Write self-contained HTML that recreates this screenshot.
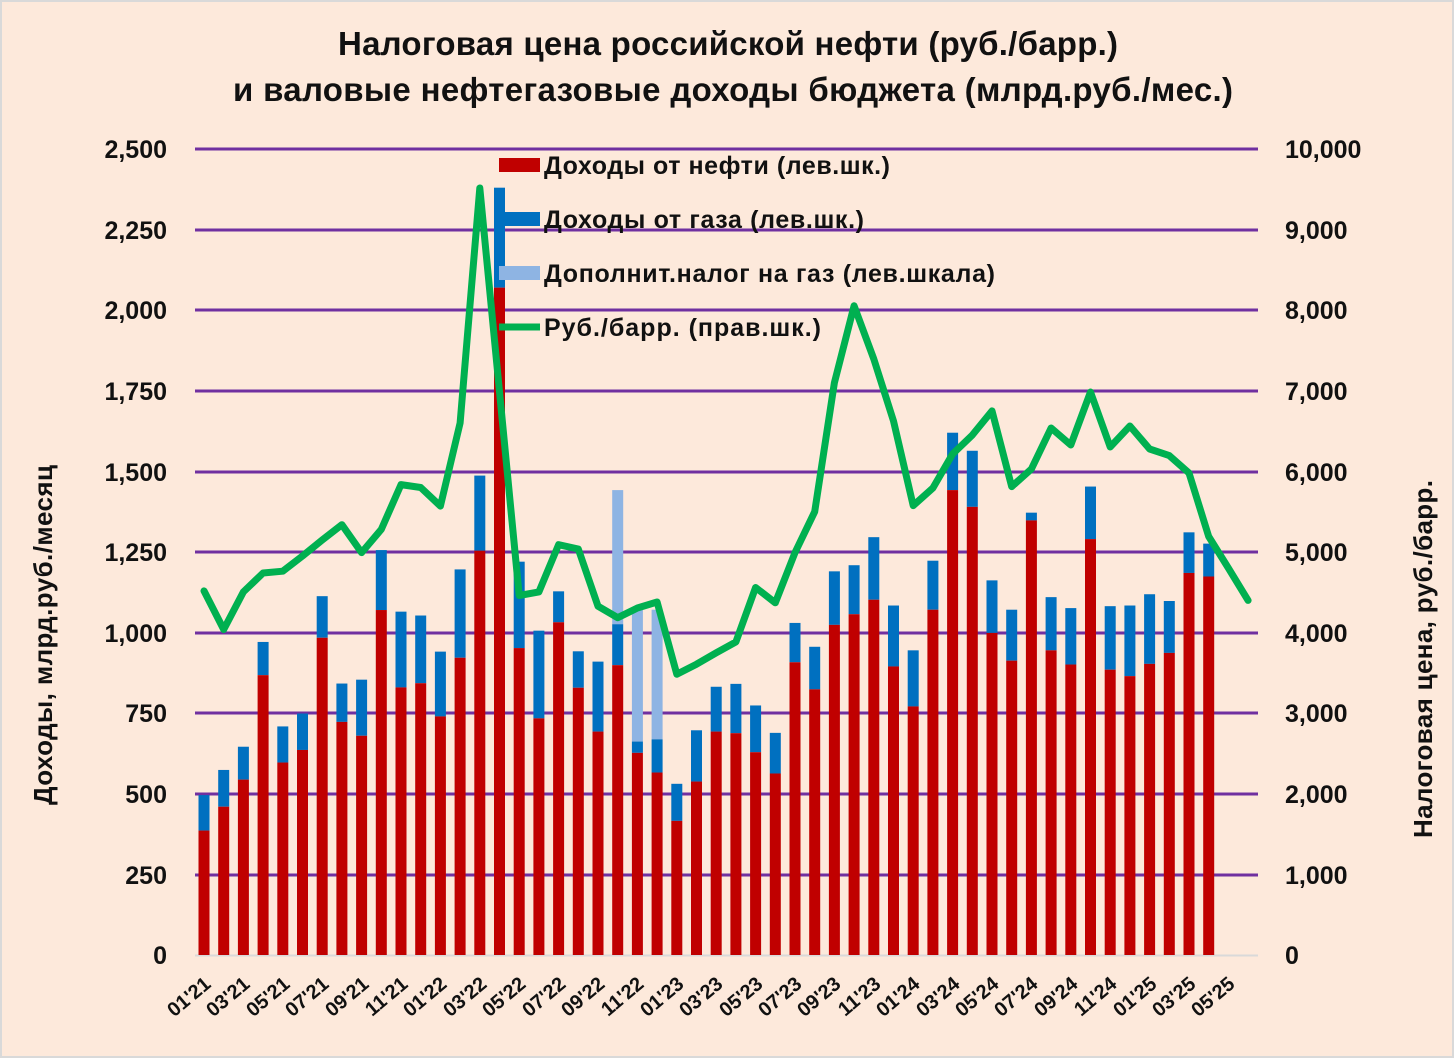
<!DOCTYPE html>
<html><head><meta charset="utf-8"><style>
html,body{margin:0;padding:0;background:#fff;}
svg{display:block;font-family:"Liberation Sans",sans-serif;font-weight:bold;}
</style></head><body>
<svg id="s" width="1456" height="1060" viewBox="0 0 1456 1060" xmlns="http://www.w3.org/2000/svg">
<rect x="1" y="1" width="1452" height="1056" fill="#fde9db" stroke="#d9d9d9" stroke-width="2"/>
<text x="728" y="55" font-size="33" text-anchor="middle" fill="#111" textLength="780">Налоговая цена российской нефти (руб./барр.)</text>
<text x="733" y="101" font-size="33" text-anchor="middle" fill="#111" textLength="1000">и валовые нефтегазовые доходы бюджета (млрд.руб./мес.)</text>
<g stroke="#7030a0" stroke-width="3">
<line x1="195" x2="1258" y1="149" y2="149"/><line x1="195" x2="1258" y1="230" y2="230"/>
<line x1="195" x2="1258" y1="310" y2="310"/><line x1="195" x2="1258" y1="391" y2="391"/>
<line x1="195" x2="1258" y1="472" y2="472"/><line x1="195" x2="1258" y1="552" y2="552"/>
<line x1="195" x2="1258" y1="633" y2="633"/><line x1="195" x2="1258" y1="713" y2="713"/>
<line x1="195" x2="1258" y1="794" y2="794"/><line x1="195" x2="1258" y1="875" y2="875"/>
</g>
<line x1="195" x2="1258" y1="955.5" y2="955.5" stroke="#d9d9d9" stroke-width="2"/>
<g font-size="25" text-anchor="end" fill="#111">
<text x="167" y="158">2,500</text><text x="167" y="239">2,250</text><text x="167" y="319">2,000</text>
<text x="167" y="400">1,750</text><text x="167" y="481">1,500</text><text x="167" y="561">1,250</text>
<text x="167" y="642">1,000</text><text x="167" y="722">750</text><text x="167" y="803">500</text>
<text x="167" y="884">250</text><text x="167" y="964">0</text>
</g>
<g font-size="25" fill="#111">
<text x="1285" y="158">10,000</text><text x="1285" y="239">9,000</text><text x="1285" y="319">8,000</text>
<text x="1285" y="400">7,000</text><text x="1285" y="481">6,000</text><text x="1285" y="561">5,000</text>
<text x="1285" y="642">4,000</text><text x="1285" y="722">3,000</text><text x="1285" y="803">2,000</text>
<text x="1285" y="884">1,000</text><text x="1285" y="964">0</text>
</g>
<text transform="translate(52,635) rotate(-90)" font-size="26" text-anchor="middle" fill="#111" textLength="340">Доходы, млрд.руб./месяц</text>
<text transform="translate(1432,659) rotate(-90)" font-size="26" text-anchor="middle" fill="#111" textLength="358">Налоговая цена, руб./барр.</text>
<g id="bars"></g>
<polyline id="ln" fill="none" stroke="#00b050" stroke-width="7" stroke-linejoin="round" stroke-linecap="round" points=""/>
<rect x="499" y="158" width="41" height="14" fill="#c00000"/>
<rect x="499" y="212" width="41" height="14" fill="#0070c0"/>
<rect x="499" y="266" width="41" height="14" fill="#8eb4e3"/>
<line x1="499" x2="540" y1="327" y2="327" stroke="#00b050" stroke-width="7"/>
<g font-size="25" fill="#111">
<text x="544" y="174" textLength="346">Доходы от нефти (лев.шк.)</text>
<text x="544" y="228" textLength="320">Доходы от газа (лев.шк.)</text>
<text x="544" y="282" textLength="451">Дополнит.налог на газ (лев.шкала)</text>
<text x="544" y="336" textLength="277">Руб./барр. (прав.шк.)</text>
</g>
<g font-size="20" text-anchor="end" fill="#111">
<text transform="translate(212,986) rotate(-40)">01'21</text>
<text transform="translate(251,986) rotate(-40)">03'21</text>
<text transform="translate(291,986) rotate(-40)">05'21</text>
<text transform="translate(330,986) rotate(-40)">07'21</text>
<text transform="translate(370,986) rotate(-40)">09'21</text>
<text transform="translate(409,986) rotate(-40)">11'21</text>
<text transform="translate(448,986) rotate(-40)">01'22</text>
<text transform="translate(488,986) rotate(-40)">03'22</text>
<text transform="translate(527,986) rotate(-40)">05'22</text>
<text transform="translate(567,986) rotate(-40)">07'22</text>
<text transform="translate(606,986) rotate(-40)">09'22</text>
<text transform="translate(645,986) rotate(-40)">11'22</text>
<text transform="translate(685,986) rotate(-40)">01'23</text>
<text transform="translate(724,986) rotate(-40)">03'23</text>
<text transform="translate(764,986) rotate(-40)">05'23</text>
<text transform="translate(803,986) rotate(-40)">07'23</text>
<text transform="translate(842,986) rotate(-40)">09'23</text>
<text transform="translate(882,986) rotate(-40)">11'23</text>
<text transform="translate(921,986) rotate(-40)">01'24</text>
<text transform="translate(961,986) rotate(-40)">03'24</text>
<text transform="translate(1000,986) rotate(-40)">05'24</text>
<text transform="translate(1039,986) rotate(-40)">07'24</text>
<text transform="translate(1079,986) rotate(-40)">09'24</text>
<text transform="translate(1118,986) rotate(-40)">11'24</text>
<text transform="translate(1158,986) rotate(-40)">01'25</text>
<text transform="translate(1197,986) rotate(-40)">03'25</text>
<text transform="translate(1236,986) rotate(-40)">05'25</text>
</g>
</svg>
<script>
var red=[386,460,544,868,597,636,984,723,680,1070,830,843,740,922,1254,2070,952,734,1032,829,693,899,627,566,416,538,693,688,629,563,908,824,1024,1057,1102,895,771,1071,1442,1390,999,913,1348,945,901,1290,885,865,903,937,1185,1174];
var tot=[496,574,646,971,709,749,1113,842,854,1256,1065,1053,941,1196,1487,2380,1220,1006,1128,942,910,1026,662,669,531,697,832,841,774,689,1030,956,1190,1209,1296,1084,945,1223,1620,1564,1162,1071,1372,1110,1076,1453,1082,1084,1119,1098,1311,1276];
var extra={21:1442,22:1071,23:1071};
var line=[4517,4039,4505,4740,4762,4950,5149,5339,4993,5281,5836,5800,5570,6600,9516,6988,4460,4505,5090,5037,4327,4185,4305,4380,3484,3608,3750,3884,4560,4370,4992,5500,7100,8055,7394,6625,5576,5794,6216,6450,6750,5811,6030,6538,6327,6985,6303,6563,6278,6196,5980,5192,4800,4400];
function X(i){return 204+19.7*i;}
function YL(v){return 955-v*0.3224;}
function YR(v){return 955-v*0.0806;}
var ns="http://www.w3.org/2000/svg",g=document.getElementById("bars");
function R(x,y1,y2,c){var r=document.createElementNS(ns,"rect");r.setAttribute("x",x-5.5);r.setAttribute("y",y1);r.setAttribute("width",11);r.setAttribute("height",Math.max(0,y2-y1));r.setAttribute("fill",c);g.appendChild(r);}
for(var i=0;i<red.length;i++){var x=X(i);
 if(extra[i]) R(x,YL(extra[i]),YL(tot[i]),"#8eb4e3");
 R(x,YL(tot[i]),YL(red[i]),"#0070c0");
 R(x,YL(red[i]),955,"#c00000");}
var p=[];for(var i=0;i<line.length;i++)p.push(X(i).toFixed(1)+","+YR(line[i]).toFixed(1));
document.getElementById("ln").setAttribute("points",p.join(" "));
</script>
</body></html>
